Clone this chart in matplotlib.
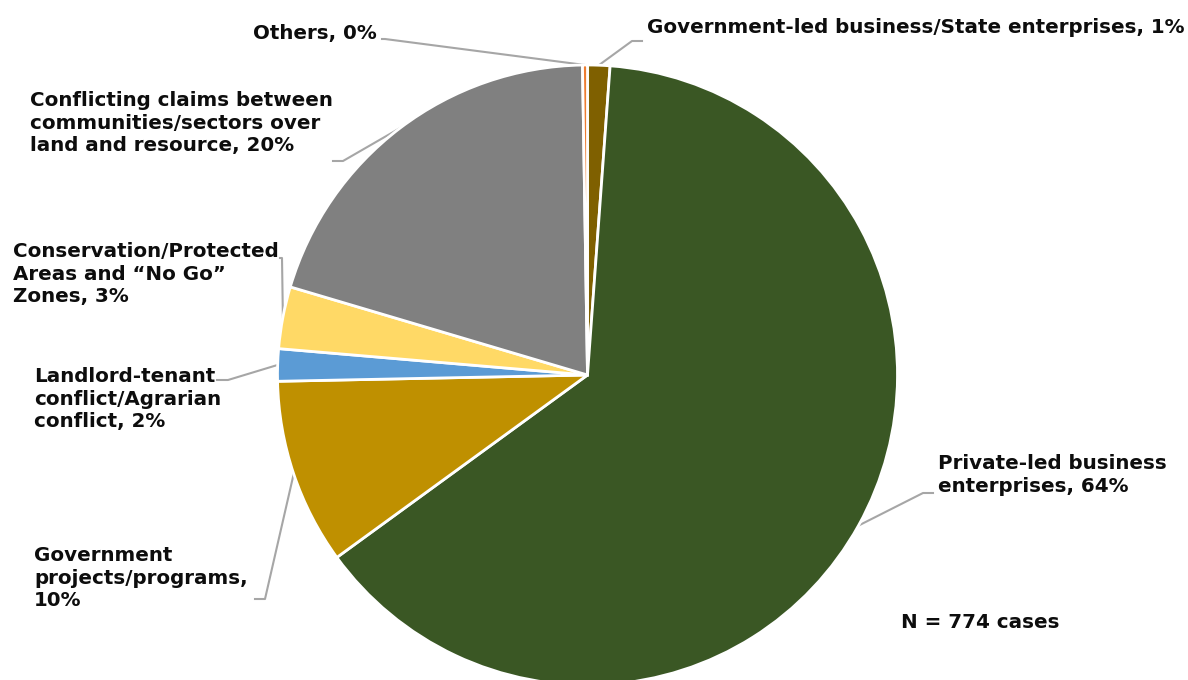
import numpy as np
import matplotlib
matplotlib.use('Agg')
import matplotlib.pyplot as plt

# 冲突案例来源分类 (N = 774)
categories = [
    'Government-led business/State enterprises',
    'Private-led business\nenterprises',
    'Government\nprojects/programs,\n',
    'Landlord-tenant\nconflict/Agrarian\nconflict',
    'Conservation/Protected\nAreas and \u201cNo Go\u201d\nZones',
    'Conflicting claims between\ncommunities/sectors over\nland and resource',
    'Others',
]
cases = [9, 494, 75, 13, 25, 156, 2]
colors = ['#7F6000', '#3A5724', '#BF9000', '#5B9BD5', '#FFD966', '#808080', '#ED7D31']

W, H = 1188, 680
fig = plt.figure(figsize=(W / 100, H / 100), dpi=100)
ax = fig.add_axes([0, 0, 1, 1])

cx, cy, r = 587.5, H - 375, 310
wedges, _ = ax.pie(cases, colors=colors, startangle=90, counterclock=False,
                   center=(cx, cy), radius=r,
                   wedgeprops=dict(edgecolor='white', linewidth=2))
ax.set_xlim(0, W)
ax.set_ylim(0, H)
ax.set_aspect('equal')
ax.axis('off')

total = sum(cases)
pct = [round(c / total * 100) for c in cases]

# 标签位置 (左边, 第一行中线, 像素坐标, y 向下) 和引线折点
text_pos = [(647, 27), (938, 463), (34, 555), (34, 376), (13, 251), (30, 100), (253, 33)]
elbows = [
    [(642, 41), (632, 41)],
    [(933, 493), (923, 493)],
    [(255, 599), (265, 599)],
    [(217, 380), (228, 380)],
    [(280, 258), (282, 258)],
    [(333, 161), (343, 161)],
    [(382, 39), (385, 39)],
]

fs = 14.3
for i, w in enumerate(wedges):
    name = categories[i]
    if name.endswith('\n'):
        label = name + '%d%%' % pct[i]
    else:
        label = name + ', %d%%' % pct[i]
    tx, ty = text_pos[i]
    ax.text(tx, H - ty + 9, label, fontsize=fs, fontweight='bold', color='#0D0D0D',
            ha='left', va='top', linespacing=1.24)
    # 引线: 从扇形外缘中点到折点
    ang = np.deg2rad((w.theta1 + w.theta2) / 2)
    px, py = cx + r * np.cos(ang), cy + r * np.sin(ang)
    xs = [p[0] for p in elbows[i]] + [px]
    ys = [H - p[1] for p in elbows[i]] + [py]
    ax.plot(xs, ys, color='#A6A6A6', lw=1.5, zorder=0.5)

ax.text(901, H - 622, 'N = %d cases' % total, fontsize=fs, fontweight='bold',
        color='#0D0D0D', ha='left', va='center')

fig.savefig('out.png', dpi=100)
